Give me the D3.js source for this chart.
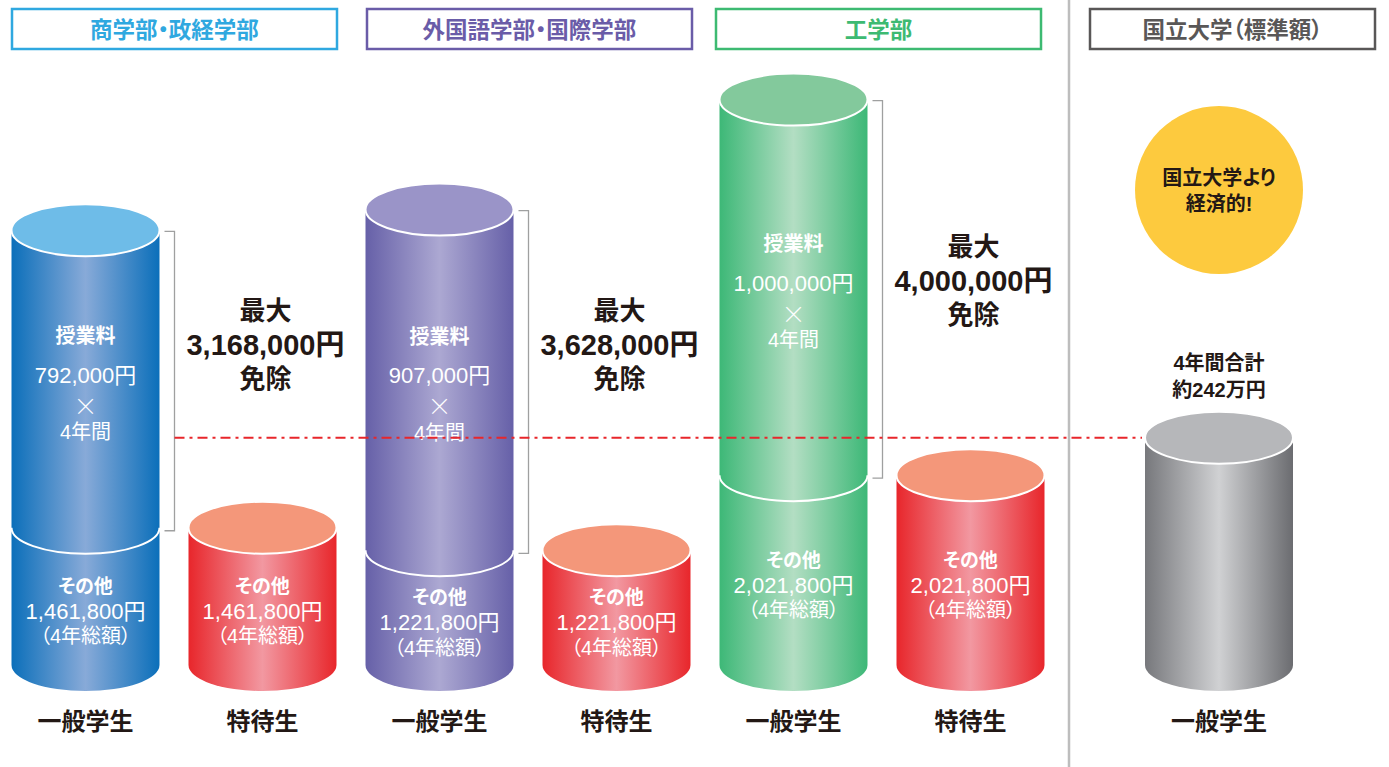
<!DOCTYPE html>
<html>
<head>
<meta charset="utf-8">
<script src="https://cdn.jsdelivr.net/npm/d3@7"></script>
<style>
  body { margin: 0; background: #fff; }
  svg text { font-family: "Liberation Sans", "Noto Sans CJK JP", sans-serif; font-feature-settings: "palt"; }
  svg text.cjk { font-family: "Noto Sans CJK JP", sans-serif; }
</style>
</head>
<body>
<div id="chart"></div>
<script>
// data
const groups = ["商学部・政経学部", "外国語学部・国際学部", "工学部"];
const nationalTitle = "国立大学（標準額）";
const tuitionPerYear = [792000, 907000, 1000000];
const years = 4;
const otherTotals = [1461800, 1221800, 2021800];
const exemptMax = [3168000, 3628000, 4000000];
const nationalTotal = 2420000;
const studentLabels = ["一般学生", "特待生"];
const nationalLabel = "一般学生";
const bubbleText = ["国立大学より", "経済的!"];
const nationalNote = ["4年間合計", "約242万円"];

const w = 1389;
const h = 767;
const base = 665;
const rx = 74;
const ry = 26;
const dark = "#231815";

const yScale = d3.scaleLinear()
                 .domain([0, 6000000])
                 .range([base, base - 6000000 / 10650]);

const xGroup = d3.scalePoint()
                 .domain(groups)
                 .range([174, 882]);

const colors = {
  blue:   { edge: "#0b6fba", mid: "#88aad8", top: "#6ebce8", head: "#2fa8e0" },
  purple: { edge: "#6660a8", mid: "#aca8d2", top: "#9a94c8", head: "#6a5ca8" },
  green:  { edge: "#3db877", mid: "#b3dec3", top: "#83c99c", head: "#3dba72" },
  red:    { edge: "#e8262b", mid: "#f298a1", top: "#f4977a" },
  gray:   { edge: "#6f7074", mid: "#d0d1d3", top: "#b6b7ba", head: "#595757" }
};
const groupColors = ["blue", "purple", "green"];

const fmt = d3.format(",");

const svg = d3.select("#chart")
              .append("svg")
              .attr("width", w)
              .attr("height", h);

const defs = svg.append("defs");
Object.keys(colors).forEach(function (k) {
  const g = defs.append("linearGradient")
                .attr("id", "grad-" + k)
                .attr("x1", "0").attr("x2", "1")
                .attr("y1", "0").attr("y2", "0");
  const c = colors[k];
  const right = k === "gray" ? "#6b6c70" : c.edge;
  const left = k === "gray" ? "#77787c" : c.edge;
  g.append("stop").attr("offset", "0").attr("stop-color", left);
  g.append("stop").attr("offset", "0.5").attr("stop-color", c.mid);
  g.append("stop").attr("offset", "1").attr("stop-color", right);
});

// build cylinders
const cylinders = [];
groups.forEach(function (g, i) {
  const cx = xGroup(g);
  const tuition = tuitionPerYear[i] * years;
  cylinders.push({
    x: cx - 88.5, color: groupColors[i], kind: "general", i: i,
    other: otherTotals[i], total: otherTotals[i] + tuition, label: studentLabels[0]
  });
  cylinders.push({
    x: cx + 88.5, color: "red", kind: "special", i: i,
    other: otherTotals[i], total: otherTotals[i], label: studentLabels[1]
  });
});
cylinders.push({
  x: 1219, color: "gray", kind: "national",
  other: null, total: nationalTotal, label: nationalLabel
});

// vertical divider
svg.append("line")
   .attr("x1", 1069).attr("x2", 1069)
   .attr("y1", 0).attr("y2", h)
   .attr("stroke", "#bdbdbd")
   .attr("stroke-width", 2.5);

// header boxes
const boxLeft = [12, 367, 716];
const headers = groups.map(function (g, i) {
  return { text: g, x: boxLeft[i], width: 325, color: colors[groupColors[i]].head };
});
headers.push({ text: nationalTitle, x: 1090, width: 285, color: colors.gray.head });

const head = svg.selectAll("g.head")
                .data(headers)
                .enter()
                .append("g")
                .attr("class", "head");
head.append("rect")
    .attr("x", (d) => d.x)
    .attr("y", 9)
    .attr("width", (d) => d.width)
    .attr("height", 40)
    .attr("fill", "#fff")
    .attr("stroke", (d) => d.color)
    .attr("stroke-width", 2.5);
head.append("text")
    .attr("x", (d) => d.x + d.width / 2)
    .attr("y", 30)
    .attr("text-anchor", "middle")
    .attr("dominant-baseline", "central")
    .attr("font-size", 22.5)
    .attr("font-weight", "bold")
    .attr("fill", (d) => d.color)
    .text((d) => d.text);

// cylinders
const cyl = svg.selectAll("g.cyl")
               .data(cylinders)
               .enter()
               .append("g")
               .attr("class", "cyl");

cyl.append("path")
   .attr("d", function (d) {
     const yt = yScale(d.total);
     return "M" + (d.x - rx) + "," + yt +
            "L" + (d.x - rx) + "," + base +
            "A" + rx + "," + ry + " 0 0 0 " + (d.x + rx) + "," + base +
            "L" + (d.x + rx) + "," + yt + "Z";
   })
   .attr("fill", (d) => "url(#grad-" + d.color + ")");

cyl.filter((d) => d.kind === "general")
   .append("path")
   .attr("d", function (d) {
     const yd = yScale(d.other);
     return "M" + (d.x - rx) + "," + yd +
            "A" + rx + "," + ry + " 0 0 0 " + (d.x + rx) + "," + yd;
   })
   .attr("fill", "none")
   .attr("stroke", "#fff")
   .attr("stroke-width", 2);

cyl.append("ellipse")
   .attr("cx", (d) => d.x)
   .attr("cy", (d) => yScale(d.total))
   .attr("rx", rx)
   .attr("ry", ry)
   .attr("fill", (d) => colors[d.color].top)
   .attr("stroke", "#fff")
   .attr("stroke-width", 2);

// bottom labels
cyl.append("text")
   .attr("x", (d) => d.x)
   .attr("y", 721)
   .attr("text-anchor", "middle")
   .attr("dominant-baseline", "central")
   .attr("font-size", 24)
   .attr("font-weight", "bold")
   .attr("fill", dark)
   .text((d) => d.label);

// "その他" labels
const otherOffsets = [-25, 0, 25];
cyl.filter((d) => d.other !== null)
   .each(function (d) {
     const mid = (yScale(d.other) + base) / 2 + 15;
     const lines = ["その他", fmt(d.other) + "円", "（4年総額）"];
     d3.select(this).selectAll("text.other")
       .data(lines)
       .enter()
       .append("text")
       .attr("class", "other")
       .attr("x", d.x)
       .attr("y", (t, j) => mid + otherOffsets[j])
       .attr("text-anchor", "middle")
       .attr("dominant-baseline", "central")
       .attr("font-size", (t, j) => j === 1 ? 22 : (j === 2 ? 20 : 19))
       .attr("font-weight", (t, j) => j === 0 ? "bold" : "normal")
       .attr("fill", "#fff")
       .text((t) => t);
   });

// tuition labels
const tuitionOffsets = [-48, -9, 20, 48];
cyl.filter((d) => d.kind === "general")
   .each(function (d) {
     const mid = (yScale(d.other) + yScale(d.total)) / 2 + 5;
     const lines = ["授業料", fmt(tuitionPerYear[d.i]) + "円", "×", years + "年間"];
     d3.select(this).selectAll("text.tuition")
       .data(lines)
       .enter()
       .append("text")
       .attr("class", (t, j) => j === 2 ? "tuition cjk" : "tuition")
       .attr("x", d.x)
       .attr("y", (t, j) => mid + tuitionOffsets[j])
       .attr("text-anchor", "middle")
       .attr("dominant-baseline", "central")
       .attr("font-size", (t, j) => j === 2 ? 24 : (j === 1 ? 22 : 20))
       .attr("font-weight", (t, j) => j === 0 ? "bold" : (j === 2 ? "300" : "normal"))
       .attr("fill", "#fff")
       .text((t) => t);
   });

// brackets + exemption notes
const general = cylinders.filter((d) => d.kind === "general");
general.forEach(function (d) {
  const bx = d.x + rx + 15;
  const y0 = yScale(d.total) + 1;
  const y1 = yScale(d.other) + 3;
  svg.append("path")
     .attr("d", "M" + (bx - 10) + "," + y0 + "H" + bx + "V" + y1 + "H" + (bx - 10))
     .attr("fill", "none")
     .attr("stroke", "#9fa0a0")
     .attr("stroke-width", 1.3);

  const cy = Math.min(345, (y0 + y1) / 2 - 8);
  const noteX = d.x + 177 + 3;
  const note = ["最大", fmt(exemptMax[d.i]) + "円", "免除"];
  svg.selectAll(null)
     .data(note)
     .enter()
     .append("text")
     .attr("x", noteX)
     .attr("y", (t, j) => cy + (j - 1) * 34)
     .attr("text-anchor", "middle")
     .attr("dominant-baseline", "central")
     .attr("font-size", (t, j) => j === 1 ? 29 : 26)
     .attr("font-weight", "bold")
     .attr("fill", dark)
     .text((t) => t);
});

// national level reference line
const yNat = yScale(nationalTotal);
svg.append("line")
   .attr("x1", general[0].x + rx + 15)
   .attr("x2", 1142)
   .attr("y1", yNat)
   .attr("y2", yNat)
   .attr("stroke", "#e8262b")
   .attr("stroke-width", 2)
   .attr("stroke-dasharray", "10 5 3 5");

// national note above gray cylinder
svg.selectAll(null)
   .data(nationalNote)
   .enter()
   .append("text")
   .attr("x", 1219)
   .attr("y", (t, j) => yNat - 75 + j * 27)
   .attr("text-anchor", "middle")
   .attr("dominant-baseline", "central")
   .attr("font-size", 20)
   .attr("font-weight", "bold")
   .attr("fill", dark)
   .text((t) => t);

// yellow bubble
svg.append("circle")
   .attr("cx", 1219)
   .attr("cy", 190)
   .attr("r", 84)
   .attr("fill", "#fdca3e");
svg.selectAll(null)
   .data(bubbleText)
   .enter()
   .append("text")
   .attr("x", 1219)
   .attr("y", (t, j) => 178 + j * 26)
   .attr("text-anchor", "middle")
   .attr("dominant-baseline", "central")
   .attr("font-size", 20)
   .attr("font-weight", "bold")
   .attr("fill", dark)
   .text((t) => t);
</script>
</body>
</html>
